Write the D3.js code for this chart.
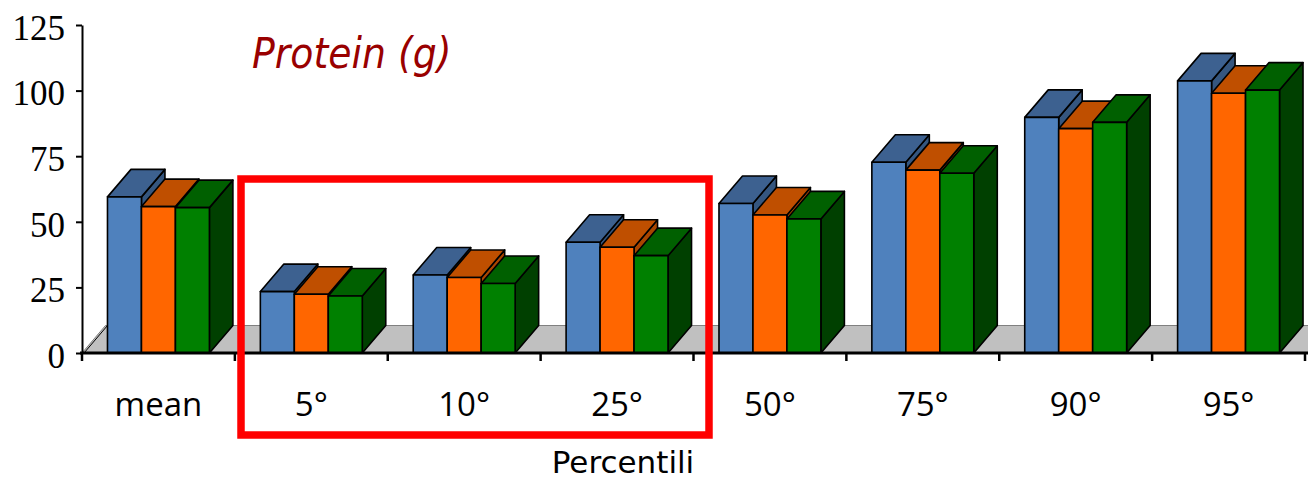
<!DOCTYPE html>
<html>
<head>
<meta charset="utf-8">
<script src="https://cdn.jsdelivr.net/npm/d3@7/dist/d3.min.js"></script>
<style>
  html, body { margin: 0; padding: 0; background: #ffffff; }
  svg { display: block; }
</style>
</head>
<body>
<svg id="chart" width="1308" height="480"></svg>
<script>
// Protein intake (g) by percentile, three series side by side
const categories = ["mean", "5°", "10°", "25°", "50°", "75°", "90°", "95°"];
const seriesA = [59.5, 23.4, 29.7, 42.2, 57.0, 72.7, 89.8, 103.7];
const seriesB = [55.8, 22.4, 28.8, 40.3, 52.6, 69.7, 85.5, 99.0];
const seriesC = [55.4, 21.7, 26.5, 37.1, 51.1, 68.5, 87.9, 100.2];
const seriesKeys = ["A", "B", "C"];
const yTickValues = [0, 25, 50, 75, 100, 125];
const titleText = "Protein (g)";
const axisTitle = "Percentili";

const seriesValues = { A: seriesA, B: seriesB, C: seriesC };
const faceColors = {
  A: { front: "#4f81bd", top: "#3d6190", side: "#35567f" },
  B: { front: "#ff6600", top: "#bf4f00", side: "#a84500" },
  C: { front: "#008000", top: "#006000", side: "#004000" }
};

const svg = d3.select("#chart");
const plotLeft = 82, plotRight = 1305, plotTop = 25, plotBase = 353;
const dx = 23.5, dy = 27.5;   // oblique depth offset

const x = d3.scaleBand().domain(categories).range([plotLeft, plotRight]).padding(0);
const bw = x.bandwidth();
const xi = d3.scaleBand().domain(seriesKeys).range([bw / 6, bw * 5 / 6]).padding(0);
const y = d3.scaleLinear().domain([0, 125]).range([plotBase, plotTop]);

const poly = pts => pts.map(p => p.join(",")).join(" ");

// floor
svg.append("polygon")
  .attr("points", poly([[plotLeft, plotBase], [plotRight + 40, plotBase], [plotRight + 40 + dx, plotBase - dy], [plotLeft + dx, plotBase - dy]]))
  .attr("fill", "#c0c0c0")
  .attr("stroke", "#808080")
  .attr("stroke-width", 1);
svg.append("line")
  .attr("x1", plotLeft + 2).attr("y1", plotBase)
  .attr("x2", plotLeft + dx + 2).attr("y2", plotBase - dy)
  .attr("stroke", "#000").attr("stroke-width", 1);

// bars
const bars = [];
categories.forEach((c, i) => {
  seriesKeys.forEach(k => bars.push({ cat: c, key: k, value: seriesValues[k][i] }));
});

const g = svg.append("g").attr("class", "bars");
bars.forEach(d => {
  const x0 = x(d.cat) + xi(d.key);
  const w = xi.bandwidth();
  const yt = y(d.value), yb = y(0);
  const col = faceColors[d.key];
  const bar = g.append("g");
  bar.append("polygon")
    .attr("points", poly([[x0 + w, yt], [x0 + w + dx, yt - dy], [x0 + w + dx, yb - dy], [x0 + w, yb]]))
    .attr("fill", col.side);
  bar.append("polygon")
    .attr("points", poly([[x0, yt], [x0 + dx, yt - dy], [x0 + w + dx, yt - dy], [x0 + w, yt]]))
    .attr("fill", col.top);
  bar.append("rect")
    .attr("x", x0).attr("y", yt)
    .attr("width", w).attr("height", yb - yt)
    .attr("fill", col.front);
  bar.selectAll("polygon, rect")
    .attr("stroke", "#000")
    .attr("stroke-width", 1.6)
    .attr("stroke-linejoin", "round");
});

// y axis
const yAxis = svg.append("g")
  .attr("transform", `translate(${plotLeft},0)`)
  .call(d3.axisLeft(y).tickValues(yTickValues).tickSize(6).tickPadding(11).tickSizeOuter(0));
yAxis.select(".domain").attr("stroke", "#000").attr("stroke-width", 2);
yAxis.selectAll(".tick line").attr("stroke", "#000").attr("stroke-width", 2);
yAxis.selectAll(".tick text")
  .attr("font-family", "'Times New Roman', 'Liberation Serif', serif")
  .attr("font-size", 35)
  .attr("fill", "#000")
  .attr("dy", "0.41em");

// category axis: boundary ticks and centred labels
const xAxis = svg.append("g")
  .attr("transform", `translate(0,${plotBase})`)
  .call(d3.axisBottom(x).tickSize(0).tickPadding(0));
xAxis.select(".domain").remove();
xAxis.selectAll(".tick text")
  .attr("font-family", "'Comic Sans MS', 'Open Sans', sans-serif")
  .attr("font-size", 33)
  .attr("fill", "#000")
  .attr("y", 63)
  .attr("dy", 0);

const bounds = categories.map(c => x(c)).concat([plotRight]);
svg.append("g").selectAll("line").data(bounds).join("line")
  .attr("x1", d => d).attr("x2", d => d)
  .attr("y1", plotBase).attr("y2", plotBase + 8)
  .attr("stroke", "#000").attr("stroke-width", 2.5);

svg.append("line")
  .attr("x1", plotLeft - 2).attr("x2", 1308)
  .attr("y1", plotBase).attr("y2", plotBase)
  .attr("stroke", "#000").attr("stroke-width", 3);

// titles
svg.append("text")
  .attr("x", 252).attr("y", 68)
  .attr("font-family", "'DejaVu Sans Condensed', 'DejaVu Sans', sans-serif")
  .attr("font-style", "italic")
  .attr("font-size", 42)
  .attr("fill", "#990000")
  .text(titleText);

svg.append("text")
  .attr("x", 623).attr("y", 473)
  .attr("text-anchor", "middle")
  .attr("font-family", "'DejaVu Sans', sans-serif")
  .attr("font-size", 31)
  .attr("fill", "#000")
  .text(axisTitle);

// highlight box around the low percentiles
svg.append("rect")
  .attr("x", 241).attr("y", 179)
  .attr("width", 468)
  .attr("height", 256)
  .attr("fill", "none")
  .attr("stroke", "#ff0000")
  .attr("stroke-width", 7.5);
</script>
</body>
</html>
